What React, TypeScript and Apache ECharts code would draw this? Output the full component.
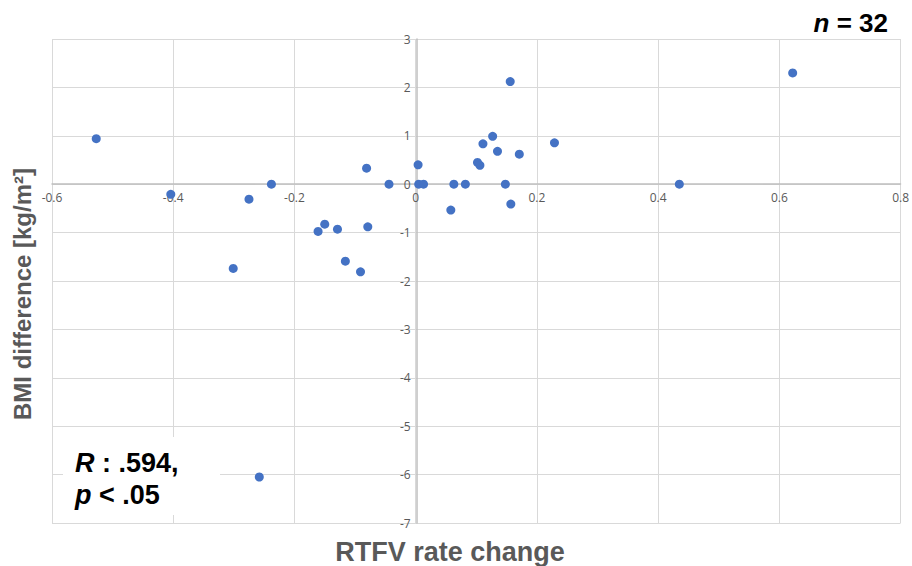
import React, { useEffect, useRef } from "react";
import * as echarts from "echarts";

const rtfvChange: number[] = [
  0.156, 0.127, 0.111, 0.135, 0.171, 0.229, 0.102, 0.106, 0.004, -0.081,
  -0.044, 0.005, 0.013, 0.063, 0.082, 0.148, 0.058, 0.157, -0.161, -0.15,
  -0.129, -0.079, -0.527, -0.404, -0.275, -0.238, -0.301, 0.622, 0.435, -0.258,
  -0.116, -0.091,
];
const bmiDiff: number[] = [
  2.12, 0.99, 0.835, 0.68, 0.62, 0.855, 0.45, 0.39, 0.4, 0.33,
  0, 0, 0, 0, 0, 0, -0.535, -0.41, -0.975, -0.825,
  -0.93, -0.88, 0.94, -0.21, -0.31, 0, -1.74, 2.3, 0, -6.05,
  -1.59, -1.81,
];

const X_MIN = -0.6;
const X_MAX = 0.8;
const X_STEP = 0.2;
const Y_MIN = -7;
const Y_MAX = 3;
const Y_STEP = 1;

const xAxisTitle = "RTFV rate change";
const yAxisTitle = "BMI difference [kg/m²]";

export default function App() {
  const ref = useRef<HTMLDivElement>(null);
  useEffect(() => {
    document.body.style.margin = "0";
    if (!ref.current) return;
    const chart = echarts.init(ref.current, null, { renderer: "svg" });
    const data = rtfvChange.map((x, i) => [x, bmiDiff[i]]);
    const W = 912;
    const H = 566;
    const grid = { left: 52, right: 9, top: 39, bottom: 43 };
    const gw = W - grid.left - grid.right;
    const gh = H - grid.top - grid.bottom;
    // put the axes (with their labels) through the origin
    const xAxisOffset = -gh * ((0 - Y_MIN) / (Y_MAX - Y_MIN));
    const yAxisOffset = -gw * ((0 - X_MIN) / (X_MAX - X_MIN));
    const tickFont = "'Open Sans', 'Liberation Sans', sans-serif";
    const boldFont = "'Liberation Sans', Arial, sans-serif";
    chart.setOption({
      animation: false,
      backgroundColor: "#ffffff",
      grid: { ...grid, containLabel: false },
      xAxis: {
        type: "value",
        min: X_MIN,
        max: X_MAX,
        interval: X_STEP,
        position: "bottom",
        offset: xAxisOffset,
        axisLine: { show: true, onZero: false, lineStyle: { color: "#bfbfbf", width: 1.5 } },
        axisTick: { show: false },
        axisLabel: {
          color: "#595959",
          fontSize: 12,
          fontFamily: tickFont,
          margin: 7,
          formatter: (v: number) => String(Math.round(v * 10) / 10),
        },
        splitLine: { show: true, lineStyle: { color: "#d9d9d9", width: 1 } },
      },
      yAxis: {
        type: "value",
        min: Y_MIN,
        max: Y_MAX,
        interval: Y_STEP,
        position: "left",
        offset: yAxisOffset,
        axisLine: { show: true, onZero: false, lineStyle: { color: "#bfbfbf", width: 1.5 } },
        axisTick: { show: false },
        axisLabel: {
          color: "#595959",
          fontSize: 12,
          fontFamily: tickFont,
          margin: 6,
        },
        splitLine: { show: true, lineStyle: { color: "#d9d9d9", width: 1 } },
      },
      series: [
        {
          type: "scatter",
          data,
          symbol: "circle",
          symbolSize: 9,
          itemStyle: { color: "#4472c4", opacity: 1 },
          z: 5,
        },
      ],
      graphic: [
        {
          type: "text",
          x: 450,
          y: 552,
          style: {
            text: xAxisTitle,
            fill: "#595959",
            font: `bold 27px ${boldFont}`,
            textAlign: "center",
            textVerticalAlign: "middle",
          },
        },
        {
          type: "text",
          x: 22,
          y: 294,
          rotation: Math.PI / 2,
          style: {
            text: yAxisTitle,
            fill: "#595959",
            font: `bold 24px ${boldFont}`,
            textAlign: "center",
            textVerticalAlign: "middle",
          },
        },
        {
          type: "text",
          x: 888,
          y: 23,
          style: {
            text: "{i|n} = 32",
            fill: "#000000",
            font: `bold 26px ${boldFont}`,
            textAlign: "right",
            textVerticalAlign: "middle",
            rich: {
              i: { fontStyle: "italic", fontWeight: "bold", fontSize: 26, fontFamily: boldFont, fill: "#000" },
            },
          },
        },
        {
          type: "rect",
          shape: { x: 63, y: 437, width: 157, height: 78 },
          style: { fill: "#ffffff" },
          z: 10,
        },
        {
          type: "text",
          x: 75,
          y: 463,
          z: 11,
          style: {
            text: "{i|R} : .594,",
            fill: "#000000",
            font: `bold 27px ${boldFont}`,
            textAlign: "left",
            textVerticalAlign: "middle",
            rich: {
              i: { fontStyle: "italic", fontWeight: "bold", fontSize: 27, fontFamily: boldFont, fill: "#000" },
            },
          },
        },
        {
          type: "text",
          x: 75,
          y: 495,
          z: 11,
          style: {
            text: "{i|p} < .05",
            fill: "#000000",
            font: `bold 27px ${boldFont}`,
            textAlign: "left",
            textVerticalAlign: "middle",
            rich: {
              i: { fontStyle: "italic", fontWeight: "bold", fontSize: 27, fontFamily: boldFont, fill: "#000" },
            },
          },
        },
      ],
    });
    return () => chart.dispose();
  }, []);
  return <div ref={ref} style={{ width: 912, height: 566 }} />;
}
